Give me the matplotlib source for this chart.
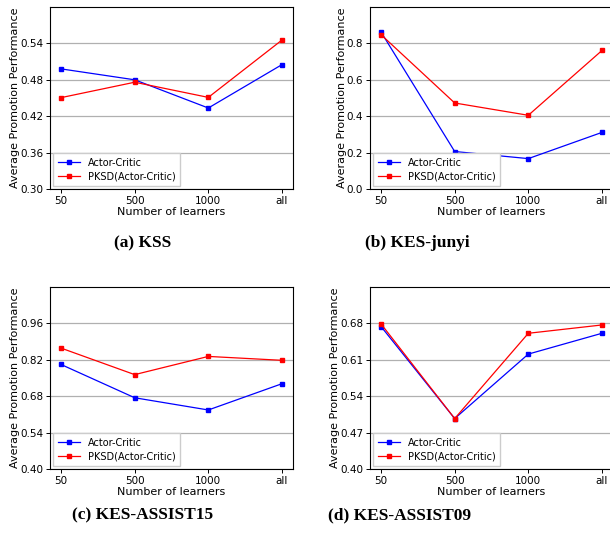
import matplotlib
matplotlib.use("Agg")
import matplotlib.pyplot as plt
import numpy as np

learners = ["50", "500", "1000", "all"]
series_names = ["Actor-Critic", "PKSD(Actor-Critic)"]

kss_ac = [0.498, 0.480, 0.4335, 0.505]
kss_pksd = [0.4506, 0.476, 0.451, 0.5455]
junyi_ac = [0.8625, 0.206, 0.167, 0.311]
junyi_pksd = [0.848, 0.4726, 0.405, 0.761]
a15_ac = [0.802, 0.674, 0.627, 0.728]
a15_pksd = [0.865, 0.763, 0.833, 0.818]
a09_ac = [0.674, 0.497, 0.621, 0.661]
a09_pksd = [0.679, 0.497, 0.661, 0.677]

captions = ["(a) KSS", "(b) KES-junyi", "(c) KES-ASSIST15", "(d) KES-ASSIST09"]
yticks_list = [
    [0.30, 0.36, 0.42, 0.48, 0.54],
    [0.0, 0.2, 0.4, 0.6, 0.8],
    [0.40, 0.54, 0.68, 0.82, 0.96],
    [0.40, 0.47, 0.54, 0.61, 0.68],
]
ylims = [(0.30, 0.60), (0.0, 1.0), (0.40, 1.10), (0.40, 0.75)]
tick_fmt = ["{:.2f}", "{:.1f}", "{:.2f}", "{:.2f}"]
data = [(kss_ac, kss_pksd), (junyi_ac, junyi_pksd), (a15_ac, a15_pksd), (a09_ac, a09_pksd)]

W, H = 610, 538
fig = plt.figure(figsize=(W / 100, H / 100), dpi=100)

# axes rects in pixels: left, top, width, height
rects = [(50, 7, 243, 182), (370, 7, 243, 182), (50, 287, 243, 182), (370, 287, 243, 182)]
cap_pos = [(143, 243), (417, 243), (143, 515), (400, 515)]

fs = 7.5
for i, ax_rect in enumerate(rects):
    l, t, w, h = ax_rect
    ax = fig.add_axes([l / W, 1 - (t + h) / H, w / W, h / H])
    x = np.arange(len(learners))
    ac, pk = data[i]
    ax.plot(x, ac, color="blue", marker="s", markersize=3.2, linewidth=0.9, label=series_names[0])
    ax.plot(x, pk, color="red", marker="s", markersize=3.2, linewidth=0.9, label=series_names[1])
    ax.set_xticks(x)
    ax.set_xticklabels(learners, fontsize=fs)
    ax.set_yticks(yticks_list[i])
    ax.set_yticklabels([tick_fmt[i].format(v) for v in yticks_list[i]], fontsize=fs)
    ax.set_ylim(*ylims[i])
    ax.set_xlim(-0.15, 3.15)
    ax.yaxis.grid(True, color="#b0b0b0", linewidth=0.9)
    ax.set_axisbelow(True)
    ax.tick_params(length=3, width=0.7, pad=2)
    for s in ax.spines.values():
        s.set_linewidth(0.8)
    ax.set_xlabel("Number of learners", fontsize=8, labelpad=0.5)
    ax.set_ylabel("Average Promotion Performance", fontsize=8, labelpad=0)
    ax.legend(loc="lower left", fontsize=7, frameon=True, fancybox=False,
              edgecolor="#cccccc", framealpha=1, borderpad=0.45, handlelength=2.3,
              labelspacing=0.35, borderaxespad=0.35)
    cx, cy = cap_pos[i]
    fig.text(cx / W, 1 - cy / H, captions[i], ha="center", va="center",
             fontsize=12.5, fontweight="bold", family="Liberation Serif")

fig.savefig("out.png", dpi=100)
